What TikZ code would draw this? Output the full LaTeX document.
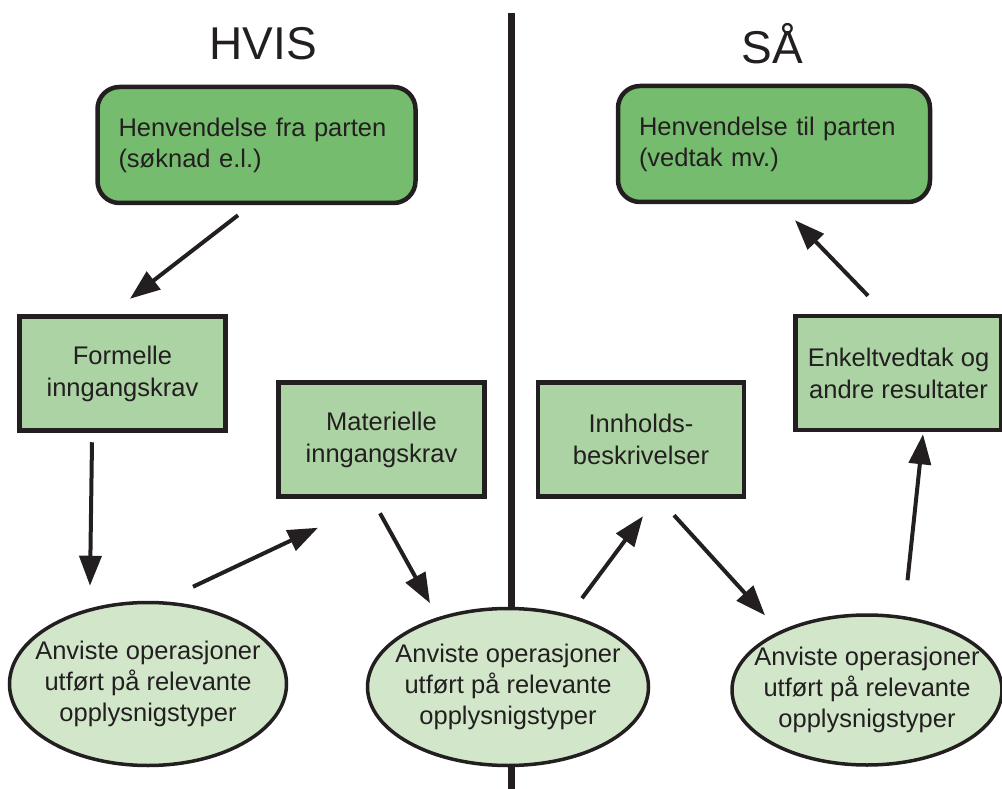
\documentclass[tikz,border=0pt]{standalone}
\usepackage{fontspec}
\setmainfont{Liberation Sans}
\usepackage{tikz}
\usetikzlibrary{arrows.meta, shapes.geometric}
\definecolor{inkdark}{HTML}{231F20}
\definecolor{partgreen}{HTML}{76BC6E}
\definecolor{reqgreen}{HTML}{ACD3A3}
\definecolor{opgreen}{HTML}{D2E7CA}
\tikzstyle{party} = [
  rectangle, draw=inkdark, fill=partgreen, line width=4.5pt,
  rounded corners=22pt, text width=276pt, inner xsep=21pt,
  minimum height=116pt, align=left, font=\fontsize{25.5}{31}\selectfont,
  text=inkdark
]
\tikzstyle{krav} = [
  rectangle, draw=inkdark, fill=reqgreen, line width=4.5pt,
  minimum width=206pt, minimum height=114pt, align=center,
  font=\fontsize{25.5}{32}\selectfont, text=inkdark
]
\tikzstyle{operasjon} = [
  ellipse, draw=inkdark, fill=opgreen, line width=3.5pt,
  inner sep=-40pt, align=center,
  font=\fontsize{25.5}{31}\selectfont, text=inkdark
]
\tikzstyle{arrow} = [-{Triangle[length=30pt,width=22pt]}, line width=4pt, draw=inkdark]

\begin{document}
\begin{tikzpicture}[x=1pt, y=-1pt]
  \useasboundingbox (0,0) rectangle (1002,789);

  % Headings and divider
  \node[font=\fontsize{46}{56}\selectfont, text=inkdark] (hvis) at (263, 44) {HVIS};
  \node[font=\fontsize{46}{56}\selectfont, text=inkdark] (saa) at (772, 44) {SÅ};
  \coordinate (divtop) at (511, 13);
  \coordinate (divbot) at (511, 789);
  \draw[line width=7pt, inkdark] (divtop) -- (divbot);

  % Party nodes
  \node[party] (fraparten) at (256.5, 145) {Henvendelse fra parten\\(søknad e.l.)\\[8pt]};
  \node[party, text width=270pt] (tilparten) at (774, 144) {Henvendelse til parten\\(vedtak mv.)\\[8pt]};

  % Requirement boxes
  \node[krav] (formelle) at (122.5, 373.5) {Formelle\\inngangskrav};
  \node[krav] (materielle) at (381.5, 439.5) {Materielle\\inngangskrav};
  \node[krav] (innhold) at (641, 439.5) {Innholds-\\beskrivelser};
  \node[krav] (enkelt) at (898.5, 373) {Enkeltvedtak og\\andre resultater};

  % Operations
  \node[operasjon, minimum width=277pt, minimum height=163pt] (opleft) at (148, 684) {Anviste operasjoner\\utført på relevante\\opplysnigstyper};
  \node[operasjon, minimum width=281pt, minimum height=157pt] (opmid) at (508, 687) {Anviste operasjoner\\utført på relevante\\opplysnigstyper};
  \node[operasjon, minimum width=270pt, minimum height=150pt] (opright) at (867, 690) {Anviste operasjoner\\utført på relevante\\opplysnigstyper};

  % Arrows
  \draw[arrow] ([shift={(-18.5,10)}]fraparten.south) -- ([shift={(7.5,-15.5)}]formelle.north);
  \draw[arrow] ([shift={(-30.5,9.5)}]formelle.south) -- ([shift={(-58,-15)}]opleft.north);
  \draw[arrow] ([shift={(45,-14)}]opleft.north) -- ([shift={(-63.5,29)}]materielle.south);
  \draw[arrow] ([shift={(-1.5,14.5)}]materielle.south) -- ([shift={(-78,-3.5)}]opmid.north);
  \draw[arrow] ([shift={(74,-8.5)}]opmid.north) -- ([shift={(2,17.5)}]innhold.south);
  \draw[arrow] ([shift={(33,16.5)}]innhold.south) -- ([shift={(-102,2)}]opright.north);
  \draw[arrow] ([shift={(40.5,-33)}]opright.north) -- ([shift={(24.5,2)}]enkelt.south);
  \draw[arrow] ([shift={(-30.5,-18)}]enkelt.north) -- ([shift={(21,16)}]tilparten.south);

\end{tikzpicture}
\end{document}
